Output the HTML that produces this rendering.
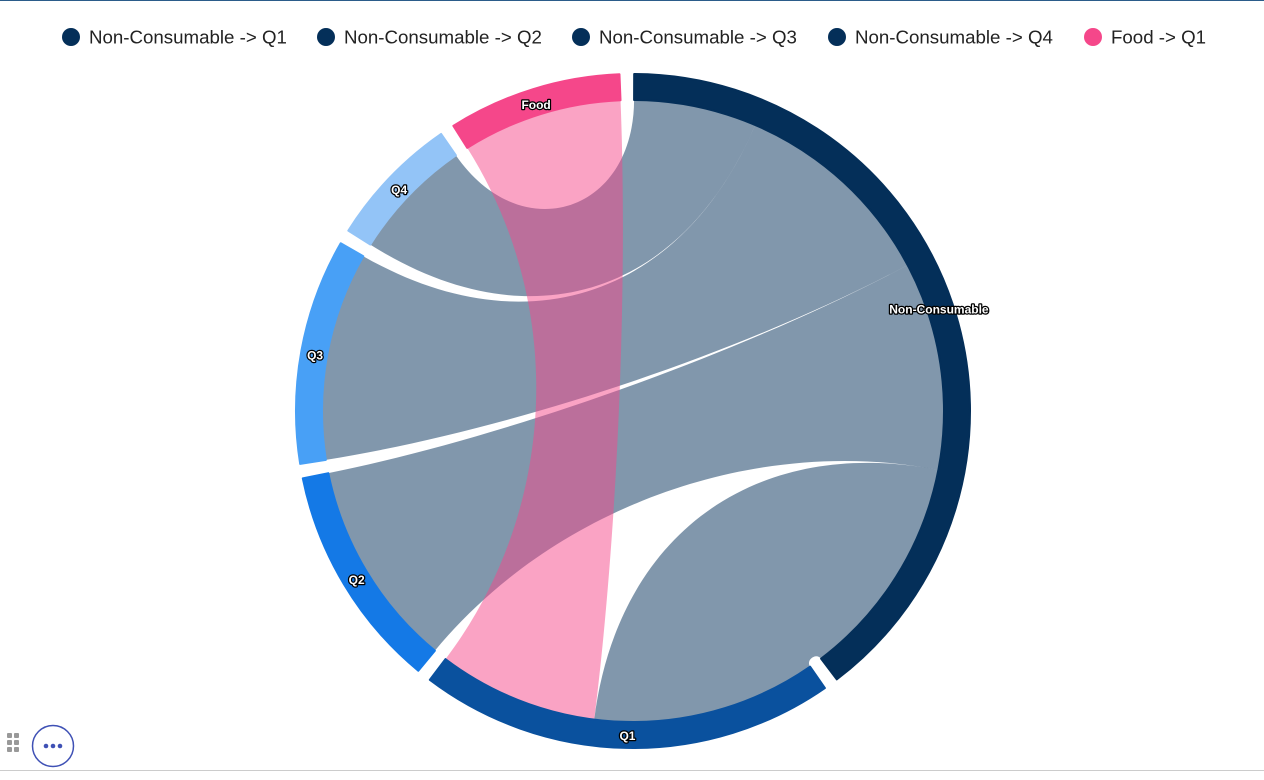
<!DOCTYPE html>
<html><head><meta charset="utf-8"><style>
body{margin:0;width:1264px;height:780px;overflow:hidden;background:#fff;font-family:"Liberation Sans",sans-serif;}
svg{position:absolute;left:0;top:0}
</style></head><body>
<svg width="1264" height="780">
<line x1="0" y1="0.5" x2="1264" y2="0.5" stroke="#2b5c8a" stroke-width="1"/>
<line x1="0" y1="770.5" x2="1264" y2="770.5" stroke="#ccc"/>
<g id="legend"></g>
<g id="chords"></g>
<g id="nodes"></g>
<g id="labels"></g>
<g fill="#999">
<rect x="7" y="733" width="5" height="5" rx="1"/><rect x="14" y="733" width="5" height="5" rx="1"/>
<rect x="7" y="740" width="5" height="5" rx="1"/><rect x="14" y="740" width="5" height="5" rx="1"/>
<rect x="7" y="747" width="5" height="5" rx="1"/><rect x="14" y="747" width="5" height="5" rx="1"/>
</g>
<g>
<circle cx="53" cy="746" r="20.5" fill="#fff" stroke="#3f51b5" stroke-width="1.5"/>
<circle cx="46" cy="746" r="2.3" fill="#3f51b5"/><circle cx="53" cy="746" r="2.3" fill="#3f51b5"/><circle cx="60" cy="746" r="2.3" fill="#3f51b5"/>
</g>
</svg>
<script>
const nodeNames = ["Non-Consumable","Q1","Q2","Q3","Q4","Food"];
const nodeColors = ["#042f59","#0a519e","#1479e6","#48a0f6","#93c4f7","#f5478a"];
const linkFrom = ["Non-Consumable","Non-Consumable","Non-Consumable","Non-Consumable","Food"];
const linkTo = ["Q4","Q3","Q2","Q1","Q1"];
const linkValues = [23,39,39,42,30];
const legendLabels = ["Non-Consumable -> Q1","Non-Consumable -> Q2","Non-Consumable -> Q3","Non-Consumable -> Q4","Food -> Q1"];
const legendColors = ["#042f59","#042f59","#042f59","#042f59","#f5478a"];

const NS="http://www.w3.org/2000/svg";
const cx=633, cy=411, rOut=337, rIn=311, gap=2.5, start=0.2, curveFactor=0.6;
function pt(a,r){const t=a*Math.PI/180;return [cx+r*Math.sin(t),cy-r*Math.cos(t)];}
function cp(own,other){
  let d=Math.abs(own-other)%360; if(d>180)d=360-d;
  const dr=d*Math.PI/180;
  const cf=curveFactor*Math.min(1,dr);
  const P=pt(own,rIn);
  return [cx+(P[0]-cx)*(1-cf), cy+(P[1]-cy)*(1-cf)];
}
function curve(a,b){
  const c1=cp(a,b),c2=cp(b,a),E=pt(b,rIn);
  return `C${c1} ${c2} ${E}`;
}
const outSum={},inSum={},totals={};nodeNames.forEach(n=>{outSum[n]=0;inSum[n]=0;});
linkValues.forEach((v,i)=>{outSum[linkFrom[i]]+=v;inSum[linkTo[i]]+=v;});
nodeNames.forEach(n=>totals[n]=Math.max(outSum[n],inSum[n]));
const sum=nodeNames.reduce((s,n)=>s+totals[n],0);
const k=(360-gap*nodeNames.length)/sum;
const nodeStart={},nodeEnd={},offs={};
let a=start;
nodeNames.forEach(n=>{nodeStart[n]=a;nodeEnd[n]=a+totals[n]*k;offs[n]=a;a=nodeEnd[n]+gap;});
const cg=document.getElementById('chords');
linkValues.forEach((v,i)=>{
  const f=linkFrom[i],t=linkTo[i];
  const s0=offs[f],s1=s0+v*k;offs[f]=s1;
  const t0=offs[t],t1=t0+v*k;offs[t]=t1;
  const A=pt(s0,rIn),B=pt(s1,rIn);
  const d=`M${A} A${rIn} ${rIn} 0 0 1 ${B} ${curve(s1,t0)} A${rIn} ${rIn} 0 0 1 ${pt(t1,rIn)} ${curve(t1,s0)} Z`;
  const p=document.createElementNS(NS,'path');
  p.setAttribute('d',d);
  p.setAttribute('fill',nodeColors[nodeNames.indexOf(f)]);
  p.setAttribute('fill-opacity','0.5');
  
  
  cg.appendChild(p);
});
const ng=document.getElementById('nodes'),lg=document.getElementById('labels');
nodeNames.forEach((n,i)=>{
  const s=nodeStart[n],e=nodeEnd[n];
  const P1=pt(s,rOut),P2=pt(e,rOut),P3=pt(e,rIn),P4=pt(s,rIn);
  const large=(e-s)>180?1:0;
  const p=document.createElementNS(NS,'path');
  p.setAttribute('d',`M${P1} A${rOut} ${rOut} 0 ${large} 1 ${P2} L${P3} A${rIn} ${rIn} 0 ${large} 0 ${P4} Z`);
  p.setAttribute('fill',nodeColors[i]);
  p.setAttribute('stroke',nodeColors[i]);p.setAttribute('stroke-width','2');p.setAttribute('stroke-linejoin','round');
  
  
  ng.appendChild(p);
  const m=pt((s+e)/2-0.2,(rIn+rOut)/2-1);
  const tx=document.createElementNS(NS,'text');
  tx.setAttribute('x',m[0]);tx.setAttribute('y',m[1]+6);
  tx.setAttribute('text-anchor','middle');
  tx.setAttribute('font-size','12');tx.setAttribute('font-weight','bold');
  tx.setAttribute('fill','#fff');tx.setAttribute('stroke','#000');tx.setAttribute('stroke-width','2.5');
  tx.setAttribute('paint-order','stroke');tx.setAttribute('stroke-linejoin','round');
  tx.textContent=n;
  
  
  lg.appendChild(tx);
});
const leg=document.getElementById('legend');
const lx=[71,326,581,837,1093];
legendLabels.forEach((l,i)=>{
  const g=document.createElementNS(NS,'g');
  
  
  const c=document.createElementNS(NS,'circle');
  c.setAttribute('cx',lx[i]);c.setAttribute('cy',37);c.setAttribute('r',9);c.setAttribute('fill',legendColors[i]);
  const t=document.createElementNS(NS,'text');
  t.setAttribute('x',lx[i]+18);t.setAttribute('y',43.5);t.setAttribute('font-size','18.7');t.setAttribute('fill','#222');
  t.textContent=l;
  g.appendChild(c);g.appendChild(t);leg.appendChild(g);
});
</script>
</body></html>
